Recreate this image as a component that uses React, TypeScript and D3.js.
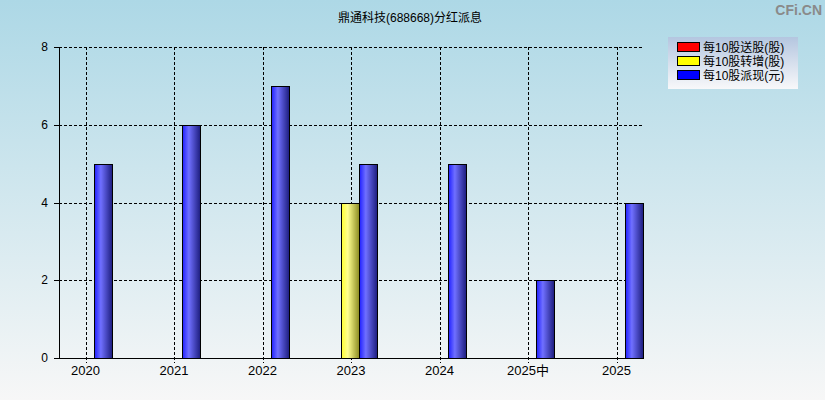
import React from "react";
import * as d3 from "d3";

const categories = ["2020", "2021", "2022", "2023", "2024", "2025中", "2025"];
const songgu = [0, 0, 0, 0, 0, 0, 0];
const zhuanzeng = [0, 0, 0, 4, 0, 0, 0];
const paixi = [5, 6, 7, 5, 5, 2, 4];
const yTicks = [0, 2, 4, 6, 8];
const seriesNames = ["每10股送股(股)", "每10股转增(股)", "每10股派现(元)"];
const title = "鼎通科技(688668)分红派息";

const W = 825, H = 400;
const left = 59, right = 643, top = 47, bottom = 358;
const FONT = '"Liberation Sans", Arial, "Noto Sans CJK SC", sans-serif';

export default function App() {
  const x = d3.scalePoint<string>().domain(categories).range([left + 26.5, right - 26.5]);
  const y = d3.scaleLinear().domain([0, 8]).range([bottom, top]);
  const barW = 18;
  const series = [
    { values: songgu, grad: "gRed", offset: -1 },
    { values: zhuanzeng, grad: "gYellow", offset: 0 },
    { values: paixi, grad: "gBlue", offset: 1 },
  ];
  const legendColors = ["#ff0000", "#ffff00", "#0000ff"];
  return (
    <svg width={W} height={H} style={{ position: "absolute", left: 0, top: 0 }} fontFamily={FONT}>
      <defs>
        <linearGradient id="bg" x1="0" y1="0" x2="0" y2="1">
          <stop offset="0" stopColor="#add8e6" />
          <stop offset="1" stopColor="#f7f7f7" />
        </linearGradient>
        <linearGradient id="lg" x1="0" y1="0" x2="0" y2="1">
          <stop offset="0" stopColor="#b4c6e0" />
          <stop offset="1" stopColor="#f8f8fa" />
        </linearGradient>
        <linearGradient id="gBlue" x1="0" y1="0" x2="1" y2="0">
          <stop offset="0" stopColor="#2020ff" />
          <stop offset="0.35" stopColor="#7070ff" />
          <stop offset="1" stopColor="#1c1c7c" />
        </linearGradient>
        <linearGradient id="gYellow" x1="0" y1="0" x2="1" y2="0">
          <stop offset="0" stopColor="#ffff30" />
          <stop offset="0.35" stopColor="#ffff90" />
          <stop offset="1" stopColor="#8a8a20" />
        </linearGradient>
        <linearGradient id="gRed" x1="0" y1="0" x2="1" y2="0">
          <stop offset="0" stopColor="#ff2a2a" />
          <stop offset="0.35" stopColor="#ff7a7a" />
          <stop offset="1" stopColor="#801f1f" />
        </linearGradient>
      </defs>
      <rect x={0} y={0} width={W} height={H} fill="url(#bg)" />
      <text x={410} y={22} textAnchor="middle" fontSize={12} fill="#000">{title}</text>
      <text x={822} y={15} textAnchor="end" fontSize={14} fontWeight="bold" fill="#8a8a8a">CFi.CN</text>

      {/* horizontal grid */}
      {yTicks.filter(t => t > 0).map(t => (
        <line key={"h" + t} x1={left} x2={right} y1={Math.round(y(t)) + 0.5} y2={Math.round(y(t)) + 0.5}
          stroke="#000" strokeDasharray="3,2" />
      ))}
      {/* vertical grid */}
      {categories.map(c => (
        <line key={"v" + c} x1={Math.round(x(c)!) + 0.5} x2={Math.round(x(c)!) + 0.5} y1={top} y2={bottom + 5}
          stroke="#000" strokeDasharray="3,2" />
      ))}

      {/* bars */}
      {series.map((s, si) =>
        s.values.map((v, i) => v > 0 ? (
          <rect key={si + "-" + i}
            x={Math.round(x(categories[i])! + s.offset * barW - barW / 2) - 0.5}
            y={Math.round(y(v)) + 0.5}
            width={barW}
            height={Math.round(y(0)) - Math.round(y(v))}
            fill={`url(#${s.grad})`} stroke="#000" strokeWidth={1} />
        ) : null)
      )}

      {/* axes */}
      <line x1={left + 0.5} x2={left + 0.5} y1={top} y2={bottom + 0.5} stroke="#000" />
      <line x1={left} x2={right} y1={bottom + 0.5} y2={bottom + 0.5} stroke="#000" />
      {yTicks.map(t => (
        <g key={"yt" + t}>
          <line x1={left - 5} x2={left} y1={Math.round(y(t)) + 0.5} y2={Math.round(y(t)) + 0.5} stroke="#000" />
          <text x={48} y={y(t) + 4} textAnchor="end" fontSize={12} fill="#000">{t}</text>
        </g>
      ))}
      {categories.map(c => (
        <text key={"xl" + c} x={x(c)!} y={375} textAnchor="middle" fontSize={13} fill="#000">{c}</text>
      ))}

      {/* legend */}
      <rect x={668} y={37} width={130} height={52} fill="url(#lg)" />
      {seriesNames.map((n, i) => (
        <g key={"lg" + i}>
          <rect x={677.5} y={42.5 + i * 14} width={22} height={9} fill={legendColors[i]} stroke="#000" />
          <text x={703} y={51.5 + i * 14} fontSize={12} fill="#000">{n}</text>
        </g>
      ))}
    </svg>
  );
}
